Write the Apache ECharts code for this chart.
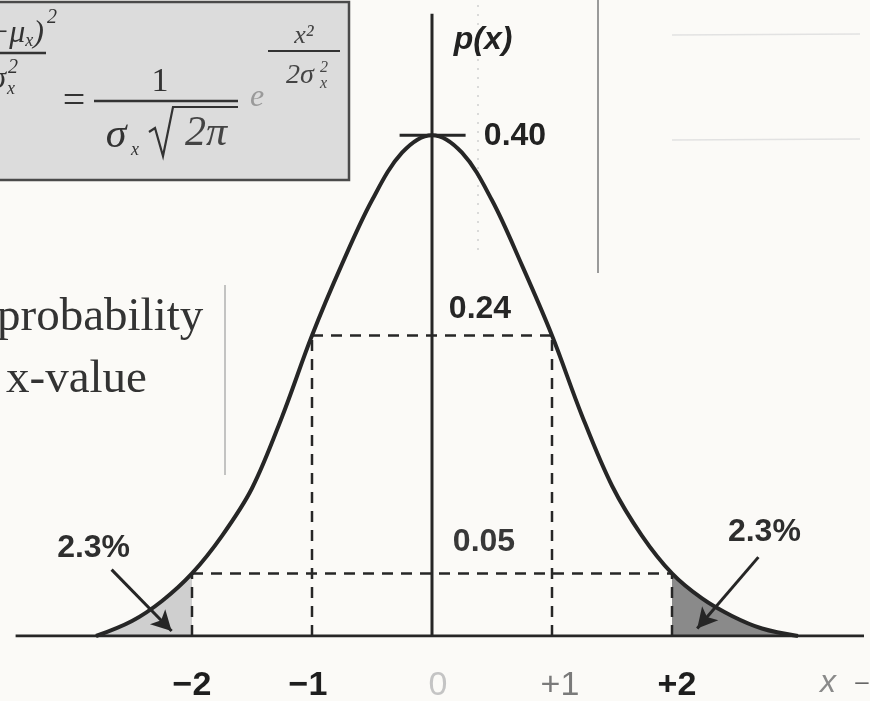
<!DOCTYPE html>
<html>
<head>
<meta charset="utf-8">
<title>Normal distribution p(x)</title>
<script src="https://cdn.jsdelivr.net/npm/echarts@6/dist/echarts.min.js"></script>
<style>
  html, body { margin: 0; padding: 0; background: #fbfaf7; }
  #chart { width: 870px; height: 701px; }
</style>
</head>
<body>
<div id="chart"></div>
<script>
// Bell curve p(x), in units of sigma
const curveX = [-2.8, -2.5, -2.25, -2, -1.75, -1.5, -1.25, -1, -0.75, -0.5, -0.25, 0,
                0.25, 0.5, 0.75, 1, 1.25, 1.5, 1.75, 2, 2.25, 2.5, 2.75, 3.05];
const curveY = [0, 0.012, 0.028, 0.05, 0.08, 0.118, 0.175, 0.24, 0.297, 0.348, 0.386, 0.40,
                0.386, 0.348, 0.296, 0.24, 0.176, 0.12, 0.08, 0.05, 0.03, 0.016, 0.006, 0];

// Labelled levels and the sigma positions they belong to
const peakValue = 0.40;
const guideSigma = [1, 2];
const guideValue = [0.24, 0.05];
const valueLabels = ['0.40', '0.24', '0.05'];

// Tail share beyond +/-2 sigma
const tailLabel = '2.3%';

// Axis tick labels
const tickX = [-2, -1, 0, 1, 2];
const tickText = ['\u22122', '\u22121', '0', '+1', '+2'];

const curve = curveX.map((x, i) => [x, curveY[i]]);
const leftTail = curve.filter(p => p[0] <= -2);
const rightTail = curve.filter(p => p[0] >= 2);

const INK = '#262626';
const SANS = '"Liberation Sans", Arial, sans-serif';
const SERIF = '"Liberation Serif", "Times New Roman", serif';
const SMOOTH = 0.35;

function seg(name, a, b, style) {
  return {
    name: name, type: 'line', data: [a, b], symbol: 'none', silent: true,
    lineStyle: style, z: 3, animation: false
  };
}

const series = [];

// shaded tails
series.push({
  name: 'lower tail', type: 'line', data: leftTail, smooth: SMOOTH, symbol: 'none',
  lineStyle: { width: 0 }, areaStyle: { color: '#cfcfcf', opacity: 1 }, z: 1, animation: false
});
series.push({
  name: 'upper tail', type: 'line', data: rightTail, smooth: SMOOTH, symbol: 'none',
  lineStyle: { width: 0 }, areaStyle: { color: '#8a8a8a', opacity: 1 }, z: 1, animation: false
});

// dashed guides: horizontal at each labelled level, vertical at each sigma
const dash = { color: INK, width: 2.5, type: [11, 8] };
guideSigma.forEach((s, i) => {
  const v = guideValue[i];
  series.push(seg('level ' + v, [-s, v], [s, v], dash));
  series.push(seg('left ' + s, [-s, 0], [-s, v], dash));
  series.push(seg('right ' + s, [s, 0], [s, v], dash));
});

// baseline, p(x) axis and the peak tick
series.push(seg('x axis', [-3.47, 0], [3.6, 0], { color: INK, width: 3 }));
series.push(seg('p axis', [0, 0], [0, 0.497], { color: INK, width: 3 }));
series.push(seg('peak tick', [-0.27, peakValue], [0.28, peakValue], { color: INK, width: 3 }));

// the curve
series.push({
  name: 'p(x)', type: 'line', data: curve, smooth: SMOOTH, symbol: 'none',
  lineStyle: { color: INK, width: 4 }, z: 5, animation: false,
  markLine: {
    silent: true, animation: false,
    symbol: ['none', 'arrow'], symbolSize: [16, 20],
    lineStyle: { color: INK, width: 3, type: 'solid' },
    label: { show: false },
    data: [
      [{ coord: [-2.67, 0.053] }, { coord: [-2.17, 0.004] }],
      [{ coord: [2.72, 0.063] }, { coord: [2.21, 0.006] }]
    ]
  }
});

// tick labels below the baseline
const tickStyle = [
  { color: '#1e1e1e', fontWeight: 'bold', offset: [0, 50] },
  { color: '#1e1e1e', fontWeight: 'bold', offset: [-4, 50] },
  { color: '#c4c4c4', fontWeight: 'normal', offset: [6, 50] },
  { color: '#7a7a7a', fontWeight: 'normal', offset: [8, 50] },
  { color: '#1e1e1e', fontWeight: 'bold', offset: [5, 50] }
];
series.push({
  name: 'ticks', type: 'scatter', symbolSize: 0, silent: true, animation: false, z: 6,
  itemStyle: { opacity: 1 },
  data: tickX.map((x, i) => ({
    value: [x, 0],
    label: {
      show: true, position: 'inside', formatter: tickText[i],
      fontFamily: SANS, fontSize: 34,
      color: tickStyle[i].color, fontWeight: tickStyle[i].fontWeight,
      offset: tickStyle[i].offset
    }
  })).concat([{
    value: [3.3, 0],
    label: {
      show: true, position: 'inside', formatter: 'x', fontFamily: SANS, fontSize: 32,
      fontStyle: 'italic', color: '#8a8a8a', offset: [0, 47]
    }
  }, {
    value: [3.6, 0],
    label: {
      show: true, position: 'inside', formatter: '\u2013', fontFamily: SANS, fontSize: 24,
      color: '#666', offset: [-2, 46]
    }
  }])
});

// value labels next to the p(x) axis
const valueLevels = [peakValue].concat(guideValue);
const valueOffsets = [[83, 1], [48, -26], [52, -31]];
const valueColors = ['#222', '#262626', '#383838'];
series.push({
  name: 'values', type: 'scatter', symbolSize: 0, silent: true, animation: false, z: 6,
  itemStyle: { opacity: 1 },
  data: valueLevels.map((v, i) => ({
    value: [0, v],
    label: {
      show: true, position: 'inside', formatter: valueLabels[i],
      fontFamily: SANS, fontSize: 32, fontWeight: 'bold', color: valueColors[i], offset: valueOffsets[i]
    }
  })).concat([{
    value: [0, 0.5],
    label: {
      show: true, position: 'inside', formatter: 'p(x)', fontFamily: SANS, fontSize: 32,
      fontStyle: 'italic', fontWeight: 'bold', color: '#222', offset: [51, 30]
    }
  }, {
    value: [-2.67, 0.053],
    label: {
      show: true, position: 'inside', formatter: tailLabel, fontFamily: SANS, fontSize: 32,
      fontWeight: 'bold', color: '#2e2e2e', offset: [-18, -21]
    }
  }, {
    value: [2.72, 0.063],
    label: {
      show: true, position: 'inside', formatter: tailLabel, fontFamily: SANS, fontSize: 32,
      fontWeight: 'bold', color: '#2e2e2e', offset: [6, -25]
    }
  }])
});

// formula panel and side text
const graphic = [
  { type: 'rect', shape: { x: -4, y: 2, width: 353, height: 178 },
    style: { fill: '#dcdcdc', stroke: '#4a4a4a', lineWidth: 2.5 }, z: 0 },
  // left fraction, partly outside the panel
  { type: 'text', x: 44, y: 34, style: {
      text: '{n|(x\u2212\u03bc}{s|x}{n|)}', align: 'right', verticalAlign: 'middle',
      rich: {
        n: { font: 'italic 32px ' + SERIF, fill: '#333', color: '#333' },
        s: { font: 'italic 18px ' + SERIF, fill: '#333', color: '#333', padding: [14, 0, 0, 0] }
      } }, z: 1 },
  { type: 'text', x: 47, y: 18, style: { text: '2', font: 'italic 20px ' + SERIF, fill: '#333', align: 'left', verticalAlign: 'middle' }, z: 1 },
  { type: 'line', shape: { x1: -2, y1: 53, x2: 46, y2: 53 }, style: { stroke: '#333', lineWidth: 2.5 }, z: 1 },
  { type: 'text', x: 6, y: 80, style: { text: '\u03c3', font: 'italic 32px ' + SERIF, fill: '#333', align: 'right', verticalAlign: 'middle' }, z: 1 },
  { type: 'text', x: 8, y: 68, style: { text: '2', font: 'italic 20px ' + SERIF, fill: '#333', verticalAlign: 'middle' }, z: 1 },
  { type: 'text', x: 7, y: 89, style: { text: 'x', font: 'italic 18px ' + SERIF, fill: '#333', verticalAlign: 'middle' }, z: 1 },
  // = 1 / (sigma sqrt(2 pi))
  { type: 'text', x: 74, y: 102, style: { text: '=', font: '40px ' + SERIF, fill: '#333', align: 'center', verticalAlign: 'middle' }, z: 1 },
  { type: 'text', x: 160, y: 82, style: { text: '1', font: '34px ' + SERIF, fill: '#333', align: 'center', verticalAlign: 'middle' }, z: 1 },
  { type: 'line', shape: { x1: 94, y1: 101, x2: 238, y2: 101 }, style: { stroke: '#333', lineWidth: 2.5 }, z: 1 },
  { type: 'text', x: 116, y: 136, style: { text: '\u03c3', font: 'italic 42px ' + SERIF, fill: '#333', align: 'center', verticalAlign: 'middle' }, z: 1 },
  { type: 'text', x: 135, y: 150, style: { text: 'x', font: 'italic 18px ' + SERIF, fill: '#333', align: 'center', verticalAlign: 'middle' }, z: 1 },
  { type: 'polyline', shape: { points: [[149, 132], [155, 128], [163, 156], [173, 107], [238, 107]] }, style: { stroke: '#333', lineWidth: 2.2, fill: null }, z: 1 },
  { type: 'text', x: 206, y: 134, style: { text: '2\u03c0', font: 'italic 42px ' + SERIF, fill: '#444', align: 'center', verticalAlign: 'middle' }, z: 1 },
  // e^(-x^2 / 2 sigma^2)
  { type: 'text', x: 257, y: 98, style: { text: 'e', font: 'italic 32px ' + SERIF, fill: '#9a9a9a', align: 'center', verticalAlign: 'middle' }, z: 1 },
  { type: 'line', shape: { x1: 268, y1: 51, x2: 340, y2: 51 }, style: { stroke: '#333', lineWidth: 2 }, z: 1 },
  { type: 'text', x: 304, y: 36, style: { text: 'x\u00b2', font: 'italic 26px ' + SERIF, fill: '#444', align: 'center', verticalAlign: 'middle' }, z: 1 },
  { type: 'text', x: 300, y: 76, style: { text: '2\u03c3', font: 'italic 28px ' + SERIF, fill: '#444', align: 'center', verticalAlign: 'middle' }, z: 1 },
  { type: 'text', x: 320, y: 68, style: { text: '2', font: 'italic 16px ' + SERIF, fill: '#444', verticalAlign: 'middle' }, z: 1 },
  { type: 'text', x: 320, y: 84, style: { text: 'x', font: 'italic 16px ' + SERIF, fill: '#444', verticalAlign: 'middle' }, z: 1 },
  // side note text and rules
  { type: 'text', x: -3, y: 318, style: { text: 'probability', font: '47px ' + SERIF, fill: '#333', verticalAlign: 'middle' }, z: 1 },
  { type: 'text', x: 6, y: 380, style: { text: 'x-value', font: '47px ' + SERIF, fill: '#333', verticalAlign: 'middle' }, z: 1 },
  { type: 'line', shape: { x1: 225, y1: 285, x2: 225, y2: 475 }, style: { stroke: '#b0b0b0', lineWidth: 1.5 }, z: 0 },
  { type: 'line', shape: { x1: 598, y1: 0, x2: 598, y2: 273 }, style: { stroke: '#9a9a9a', lineWidth: 2 }, z: 0 },
  { type: 'line', shape: { x1: 672, y1: 35, x2: 860, y2: 34 }, style: { stroke: '#e2e2e2', lineWidth: 1.5 }, z: 0 },
  { type: 'line', shape: { x1: 672, y1: 140, x2: 860, y2: 139 }, style: { stroke: '#e2e2e2', lineWidth: 1.5 }, z: 0 },
  { type: 'line', shape: { x1: 478, y1: 5, x2: 478, y2: 250 }, style: { stroke: '#d0d0d0', lineWidth: 1.5, lineDash: [2, 7] }, z: 0 }
];

const chart = echarts.init(document.getElementById('chart'), null, { renderer: 'canvas' });
chart.setOption({
  backgroundColor: '#fbfaf7',
  animation: false,
  grid: { left: 0, right: 6, top: 10, bottom: 65, containLabel: false },
  xAxis: { type: 'value', min: -3.6, max: 3.6, show: false },
  yAxis: { type: 'value', min: 0, max: 0.5, show: false },
  graphic: graphic,
  series: series
});
</script>
</body>
</html>
